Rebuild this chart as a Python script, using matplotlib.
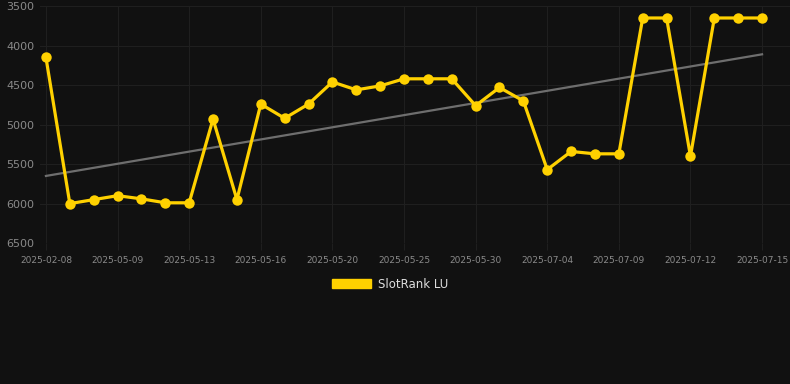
import matplotlib
matplotlib.use("Agg")
import matplotlib.pyplot as plt
from matplotlib.patches import Patch
import numpy as np

# rank per day (lower is better, axis inverted)
dates = ["2025-02-08", "", "", "2025-05-09", "", "", "2025-05-13", "", "",
         "2025-05-16", "", "", "2025-05-20", "", "", "2025-05-25", "", "",
         "2025-05-30", "", "", "2025-07-04", "", "", "2025-07-09", "", "",
         "2025-07-12", "", "", "2025-07-15"]
ranks = [4150, 6000, 5950, 5900, 5940, 5990, 5990, 4930, 5950, 4740,
         4920, 4740, 4460, 4560, 4510, 4420, 4420, 4420, 4760, 4530,
         4700, 5570, 5340, 5370, 5370, 3650, 3650, 5400, 3650, 3650, 3650]
trend_ends = [5650, 4110]
series_name = "SlotRank LU"

bg = "#111111"
grid_c = "#1f1f1f"
text_c = "#8a8a8a"
gold = "#FFD100"

fig = plt.figure(figsize=(7.9, 3.84), dpi=100, facecolor=bg)
ax = fig.add_axes([0.0506, 0.367, 0.9494, 0.617], facecolor=bg)

x = np.arange(len(ranks))
ax.plot([x[0], x[-1]], trend_ends, color="#6e6e6e", lw=1.6, zorder=2)
ax.plot(x, ranks, color=gold, lw=2.3, marker="o", ms=7.5,
        markeredgewidth=0, zorder=3)

ax.set_ylim(6500, 3500)
ax.set_yticks(range(3500, 6501, 500))
ax.set_xlim(-0.25, 31.17)
tick_idx = [i for i, d in enumerate(dates) if d]
ax.set_xticks(tick_idx)
ax.set_xticklabels([dates[i] for i in tick_idx])

ax.grid(True, color=grid_c, lw=0.8)
for s in ax.spines.values():
    s.set_visible(False)
ax.tick_params(axis="x", colors=grid_c, labelcolor=text_c, labelsize=6.5,
               length=5, width=0.8, pad=4)
ax.tick_params(axis="y", length=0, labelcolor=text_c, labelsize=8, pad=4)

fig.legend(handles=[Patch(facecolor=gold, edgecolor=gold, label=series_name)],
           loc="center", bbox_to_anchor=(0.494, 0.26), frameon=False,
           handlelength=3.3, handleheight=0.85, fontsize=8.5,
           labelcolor="#dddddd", handletextpad=0.6)

fig.savefig("out.png", dpi=100, facecolor=bg)
